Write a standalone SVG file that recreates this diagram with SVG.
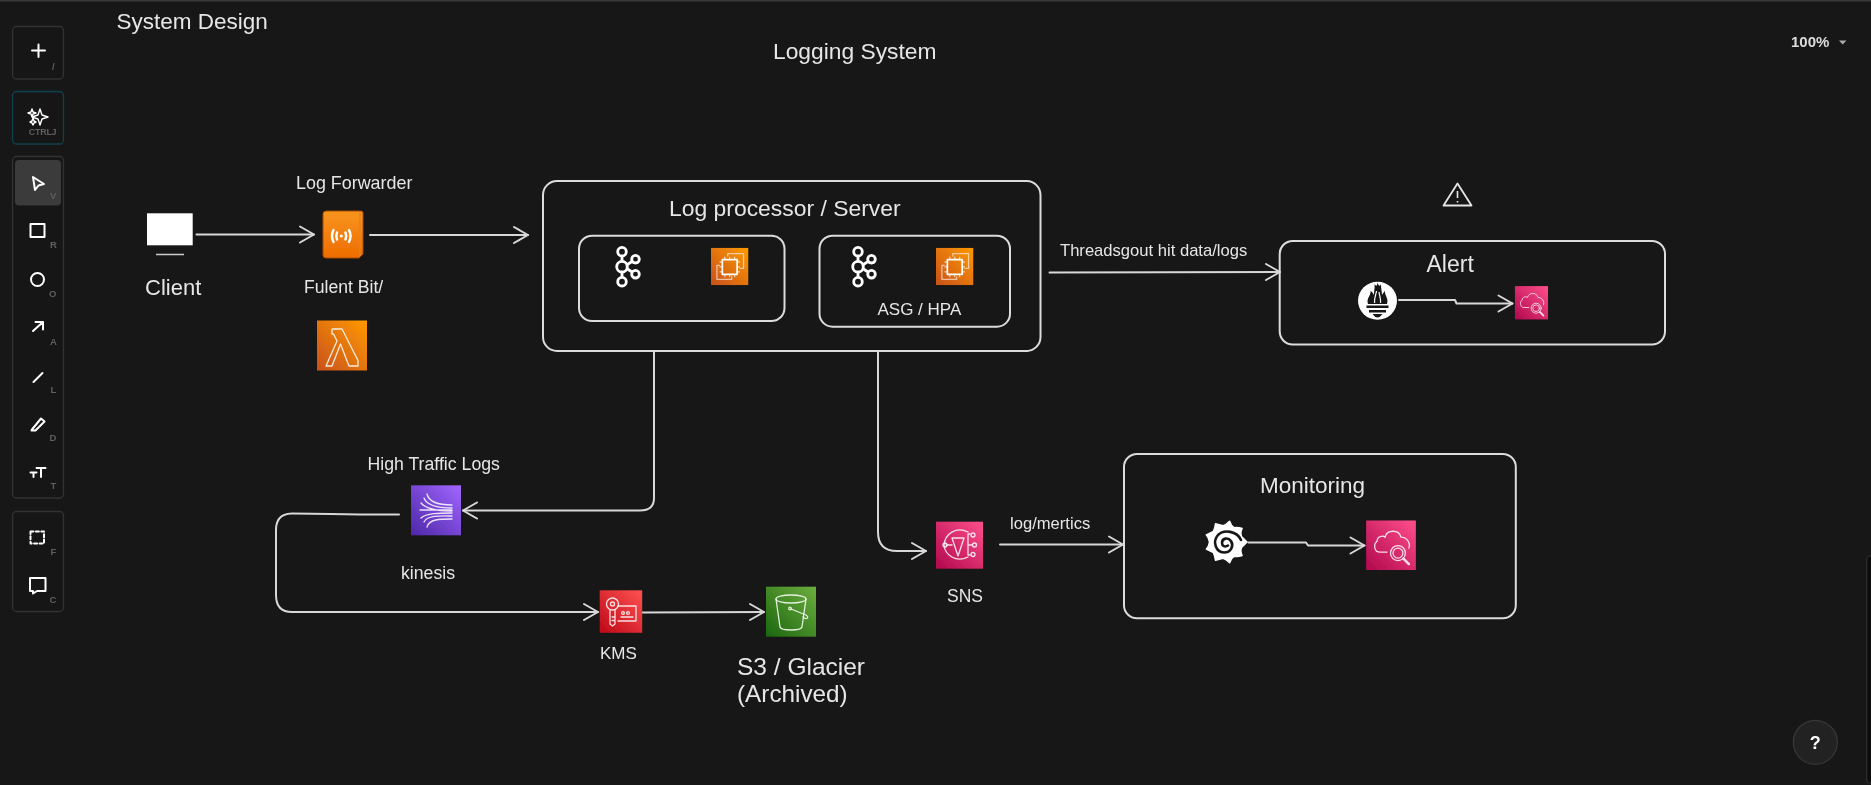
<svg xmlns="http://www.w3.org/2000/svg" width="1871" height="785" viewBox="0 0 1871 785">
<style>
text{font-family:"Liberation Sans",Arial,sans-serif;fill:#e6e6e6}
.panel{fill:#171717;stroke:#333;stroke-width:1.3}
.tool{fill:none;stroke:#fff;stroke-width:2;stroke-linecap:round;stroke-linejoin:round}
.key{font-size:9.5px;fill:#5e5e5e;font-weight:bold}
.frame{fill:none;stroke:#dcdcdc;stroke-width:2}
.edge{fill:none;stroke:#d8d8d8;stroke-width:2;stroke-linecap:round;stroke-linejoin:round;marker-end:url(#head)}
.glyph{fill:none;stroke:#fff;stroke-opacity:.85;stroke-width:1.3;stroke-linecap:round;stroke-linejoin:round}
.s17{font-size:17.600px}.s23{font-size:22.900px}
.kafka{fill:none;stroke:#fff;stroke-width:2.800}
</style>
<defs>
<filter id="soft" filterUnits="userSpaceOnUse" x="0" y="0" width="1871" height="785"><feGaussianBlur stdDeviation="0.35"/></filter>
<marker id="head" markerUnits="userSpaceOnUse" markerWidth="20" markerHeight="22" refX="16" refY="10" orient="auto">
<path d="M2,2 L16,10 L2,18" fill="none" stroke="#d8d8d8" stroke-width="2" stroke-linecap="round" stroke-linejoin="round"/>
</marker>
<linearGradient id="orange" x1="0" y1="1" x2="1" y2="0"><stop offset="0" stop-color="#c8511b"/><stop offset="1" stop-color="#f90"/></linearGradient>
<linearGradient id="pink" x1="0" y1="1" x2="1" y2="0"><stop offset="0" stop-color="#b0084d"/><stop offset="1" stop-color="#ff4f8b"/></linearGradient>
<linearGradient id="purple" x1="0" y1="1" x2="1" y2="0"><stop offset="0" stop-color="#4d27a8"/><stop offset="1" stop-color="#a166ff"/></linearGradient>
<linearGradient id="red" x1="0" y1="1" x2="1" y2="0"><stop offset="0" stop-color="#bd0816"/><stop offset="1" stop-color="#ff5252"/></linearGradient>
<linearGradient id="green" x1="0" y1="1" x2="1" y2="0"><stop offset="0" stop-color="#1b660f"/><stop offset="1" stop-color="#6cae3e"/></linearGradient>
<linearGradient id="book" x1="0" y1="0" x2="0" y2="1"><stop offset="0" stop-color="#f89520"/><stop offset="1" stop-color="#ee6c00"/></linearGradient>
<symbol id="kafkaIcon" viewBox="0 0 30 42" width="30" height="42" overflow="visible">
<g class="kafka"><path d="M7,10.500V15.500M7,26.500V31.500M12,19L17.500,15.500M12,23L17.500,26.500"/><circle cx="7" cy="6" r="4.300"/><circle cx="7" cy="21" r="5.300"/><circle cx="7" cy="36" r="4.300"/><circle cx="20.500" cy="13.500" r="3.800"/><circle cx="20.500" cy="28.500" r="3.800"/></g>
</symbol>
<symbol id="ec2Icon" viewBox="0 0 38 38" width="37.500" height="37.500">
<rect width="38" height="38" fill="url(#orange)"/>
<g class="glyph"><path d="M17,8.500V6H33V21H29.500" stroke-opacity=".6"/><path d="M8.500,18H6V32H21V29.500" stroke-opacity=".6"/><rect x="11.500" y="12" width="15" height="15" stroke-width="1.700" stroke-opacity="1"/><path d="M14,9.500V12M19,9.500V12M24,9.500V12M14,27V29.500M19,27V29.500M24,27V29.500M9,14.500H11.500M9,19.500H11.500M9,24.500H11.500M26.500,14.500H29M26.500,19.500H29M26.500,24.500H29" stroke-width="1"/></g>
</symbol>
<symbol id="cwIcon" viewBox="0 0 50 50">
<rect width="50" height="50" fill="url(#pink)"/>
<g class="glyph" stroke-width="1.500"><path d="M21,32H14C8,32 7,24 11,21C11,16 17,15 19,17C21,9 33,9 35,17C41,17 45,23 43,28"/><circle cx="32" cy="33" r="7.500"/><circle cx="32" cy="33" r="5"/><path d="M37.500,38.500L43,44" stroke-width="2.500"/></g>
</symbol>
</defs>

<rect width="1871" height="785" fill="#171717"/>
<rect width="1871" height="1.500" fill="#3a3a3a"/>
<g filter="url(#soft)">
<g id="toolbar">
<rect class="panel" x="12.500" y="26.500" width="51" height="52.500" rx="4"/>
<path class="tool" d="M38.500,44.500V57M32,50.500H45"/>
<text class="key" x="52" y="70">/</text>
<rect class="panel" x="12.500" y="91.500" width="51" height="52.500" rx="4" style="stroke:#11424f"/>
<path class="tool" style="stroke-width:1.400" d="M40,109L42,115L48,117L42,119L40,125L38,119L32,117L38,115ZM32,109L33,112L36,113L33,114L32,117L31,114L28,113L31,112ZM33,118L34,121L36,122L34,123L33,125L32,123L30,122L32,121Z"/>
<text class="key" x="28.800" y="134.500" style="font-size:9px;letter-spacing:-.3px">CTRLJ</text>
<rect class="panel" x="12.500" y="156.500" width="51" height="341.500" rx="4"/>
<rect x="15" y="160" width="46" height="45.500" rx="4" fill="#3a3a3a"/>
<path class="tool" d="M33,177L44,184L38.500,185.500L35,190Z"/>
<text class="key" x="50" y="199">V</text>
<rect class="tool" x="30.500" y="224" width="14" height="13"/>
<text class="key" x="50" y="248">R</text>
<circle class="tool" cx="37.500" cy="279.500" r="6.500"/>
<text class="key" x="49" y="297">O</text>
<path class="tool" d="M33,331L43,322M35.500,322H43V329.500"/>
<text class="key" x="50" y="345">A</text>
<path class="tool" d="M33.500,382L42.500,373"/>
<text class="key" x="50.500" y="393">L</text>
<path class="tool" d="M32,429.500L41,418.500L44.500,421.500L35.500,430.500L31.500,430.500Z"/>
<text class="key" x="49.500" y="441">D</text>
<path class="tool" d="M30.500,472.500H36.500M33.500,472.500V477M36.500,468H45.500M41,468V477"/>
<text class="key" x="50.500" y="489">T</text>
<rect class="panel" x="12.500" y="511.500" width="51" height="100" rx="4"/>
<rect class="tool" x="30.500" y="531.500" width="13.500" height="12" stroke-dasharray="3 2.400"/>
<text class="key" x="50.500" y="555">F</text>
<path class="tool" d="M30,578H45.500V591H37L33,593.500V591H30Z"/>
<text class="key" x="49.500" y="603">C</text>
</g>

<g id="header">
<text x="116.500" y="29" style="font-size:22.500px">System Design</text>
<text x="773" y="59" style="font-size:22.800px">Logging System</text>
<text x="1791" y="47" style="font-size:15px;font-weight:bold;fill:#ddd">100%</text>
<path d="M1839,40.500H1846.500L1842.700,44.500Z" fill="#aaa"/>
</g>

<g id="connectors">
<path class="edge" d="M196.500,234.500H314"/>
<path class="edge" d="M370,235H528"/>
<path class="edge" d="M1049.500,272.500C1120,272 1200,272 1280,272"/>
<path class="edge" d="M654,351V498Q654,510.500 640,510.500H463"/>
<path class="edge" d="M399,514.500C360,515 320,513.500 292,513.500Q276,513.500 276,530V595Q276,612 292,612H598"/>
<path class="edge" d="M642,612.500C680,612 720,612 764,612"/>
<path class="edge" d="M878,351V532Q878,551 897,551H926"/>
<path class="edge" d="M1000,544.500H1123"/>
<path class="edge" d="M1399,300H1455L1456.500,303.500H1512.500"/>
<path class="edge" d="M1248.500,542.500H1306L1308,545.500H1364.500"/>
</g>

<g id="client">
<rect x="147" y="213.300" width="45.700" height="32" fill="#fff"/>
<path d="M156,254.500H184" stroke="#ccc" stroke-width="1.500"/>
<text x="145" y="295" style="font-size:22px">Client</text>
</g>

<g id="log-forwarder">
<text class="s17" x="296" y="188.500" style="font-size:17.900px">Log Forwarder</text>
<path d="M326,211H361Q363,211 363,213V254L359,258H326Q323,258 323,255V214Q323,211 326,211Z" fill="url(#book)" stroke="#a84a00" stroke-width="1"/>
<path d="M360,212V256" stroke="#e8811a" stroke-width="1.500"/>
<g fill="none" stroke="#fff" stroke-width="2.500" stroke-linecap="round"><path d="M333.500,230Q330.500,236 333.500,242M349,230Q352,236 349,242"/><path d="M337,232.500Q335.500,236 337,239.500M345.500,232.500Q347,236 345.500,239.500"/></g>
<circle cx="341.300" cy="236" r="1.600" fill="#fff"/>
<text class="s17" x="304" y="292.500">Fulent Bit/</text>
</g>

<g id="lambda">
<rect x="317" y="320.500" width="50" height="50" fill="url(#orange)"/>
<path class="glyph" d="M332,329H342L358,360.500V366H349L340.500,344L332,366H326L337,341L333.500,334H332Z"/>
</g>

<g id="log-processor">
<rect class="frame" x="543" y="181" width="497.500" height="170" rx="14"/>
<text class="s23" x="669" y="216">Log processor / Server</text>
<rect class="frame" x="579" y="235.700" width="205.500" height="85.300" rx="13"/>
<rect class="frame" x="819.500" y="235.700" width="190.500" height="91" rx="13"/>
<use href="#kafkaIcon" x="615" y="245.700"/>
<use href="#kafkaIcon" x="851" y="245.700"/>
<use href="#ec2Icon" x="711" y="247.700"/>
<use href="#ec2Icon" x="936" y="247.700"/>
<text x="877.500" y="315" style="font-size:17px">ASG / HPA</text>
</g>

<g id="threshold-label"><text x="1060" y="256" style="font-size:16.600px">Threadsgout hit data/logs</text></g>

<g id="alert">
<path d="M1457.500,183.500L1471.500,205.500H1443.500Z" fill="none" stroke="#e6e6e6" stroke-width="1.800" stroke-linejoin="round"/>
<path d="M1457.500,191V198M1457.500,201V202.500" stroke="#e6e6e6" stroke-width="1.600"/>
<rect class="frame" x="1279.700" y="241" width="385.300" height="103.500" rx="13"/>
<text x="1426.500" y="271.500" style="font-size:23px">Alert</text>
<g id="prometheus">
<ellipse cx="1377.500" cy="300.700" rx="19.500" ry="19" fill="#fff"/>
<path d="M1368,304C1366,298 1371,296 1370.500,291C1372.500,292 1373,293 1374,295C1374,290 1375,288 1374.500,284C1376,286 1377,287 1377.500,282.500C1378.500,286 1380,287 1381,284C1381,289 1382,291 1382,295C1383,293 1384,292 1385,291C1384.500,296 1389,298 1387,304Z" fill="#171717"/>
<path d="M1374.500,303C1374,298 1376,295 1376.500,291M1380.500,303C1381,299 1379.500,296 1379,292" fill="none" stroke="#fff" stroke-width="1.200"/>
<path d="M1366.500,305.500H1388.500V308H1366.500ZM1369,310H1386V312.500H1369ZM1372.500,314H1382.500Q1380,317.500 1377.500,317.500Q1375,317.500 1372.500,314Z" fill="#171717"/>
</g>
<use href="#cwIcon" x="1514.700" y="286" width="33.500" height="33.700"/>
</g>

<g id="kinesis">
<text class="s17" x="367.500" y="470" style="font-size:17.700px">High Traffic Logs</text>
<rect x="411" y="485.300" width="50" height="50" fill="url(#purple)"/>
<g class="glyph"><path d="M427,494C429,503 440,505 452,505M424,498C427,506 440,508 452,508M421,503C426,509 440,511 452,511M420,510H452M421,518C426,513 440,513 452,513M424,522C427,515 440,516 452,516M427,527C429,519 440,519 452,519"/></g>
<text x="401" y="579.300" style="font-size:17.700px">kinesis</text>
</g>

<g id="kms">
<rect x="599.700" y="590.300" width="42.500" height="42.500" fill="url(#red)"/>
<g class="glyph"><circle cx="612.500" cy="604" r="6"/><circle cx="612.500" cy="604" r="2"/><path d="M610,610V624L612.500,626L615,624V610M612,617H615M612,620.500H615M618,606H636V621H618M621,617H633"/><circle cx="623" cy="613" r="1.400"/><circle cx="628" cy="613" r="1.400"/></g>
<text x="600" y="659" style="font-size:17px">KMS</text>
</g>

<g id="s3">
<rect x="766" y="586.700" width="50" height="50" fill="url(#green)"/>
<g class="glyph"><ellipse cx="791" cy="599" rx="15" ry="4"/><path d="M776,599L780,627C781,631 801,631 802,627L806,599"/><circle cx="790" cy="608.500" r="1.300"/><path d="M791,609L806,615C810,618 806,620 803,617"/></g>
<text x="737" y="675" style="font-size:24.500px">S3 / Glacier</text>
<text x="737" y="702" style="font-size:24.300px">(Archived)</text>
</g>

<g id="sns">
<rect x="936" y="521.700" width="47" height="47" fill="url(#pink)"/>
<g class="glyph"><path d="M968,532C956,526 945,534 944,545C945,555 956,563 968,557M946,545H952M952,538H964L958,556ZM968,545H972M968,534V555M968,534H970M968,555H970"/><circle cx="973" cy="535" r="2"/><circle cx="974.500" cy="545" r="2"/><circle cx="973" cy="554.500" r="2"/><circle cx="945" cy="545" r="2"/></g>
<text x="947" y="601.500" style="font-size:17.500px">SNS</text>
</g>

<g id="metrics-label"><text x="1010" y="529.300" style="font-size:16.600px">log/mertics</text></g>

<g id="monitoring">
<rect class="frame" x="1124" y="454" width="391.800" height="164.300" rx="13"/>
<text x="1260" y="493" style="font-size:22.500px">Monitoring</text>
<g id="grafana" transform="translate(1226,542)">
<path d="M3.600,-20.700Q5,-16 8.200,-14.300Q12,-15 16.100,-13.500Q14,-9 15.500,-5.600Q18,-3 21,0Q18,3 15.500,5.600Q14,9 16.100,13.500Q12,15 8.200,14.300Q5,16 3.600,20.700Q0,17 -2.900,16.200Q-7,17 -10.500,18.200Q-11,14 -12.600,10.600Q-16,9 -19.700,7.200Q-17,4 -16.500,0Q-17,-4 -19.700,-7.200Q-16,-9 -12.600,-10.600Q-11,-14 -10.500,-18.200Q-7,-17 -2.900,-16.200Q0,-17 3.600,-20.700Z" fill="#fff" stroke="#fff" stroke-width="1.500" stroke-linejoin="round"/>
<path d="M15,-2C11,-11 -2,-13 -8,-7C-14,0 -10,10 -2,10.500C5,10.500 8,4 5,-1C2,-5 -4,-4 -4,1C-4,4 -1,5.500 2,3.500" fill="none" stroke="#171717" stroke-width="2.600" stroke-linecap="round"/>
</g>
<use href="#cwIcon" x="1366" y="520.300" width="50" height="49.700"/>
</g>

<g id="help">
<circle cx="1815.300" cy="742.300" r="22" fill="#242424" stroke="#383838" stroke-width="1.200"/>
<text x="1815.300" y="748.500" text-anchor="middle" style="font-size:18px;font-weight:bold;fill:#fff">?</text>
</g>
<rect x="1866.700" y="556" width="10" height="227" rx="3" fill="#0e0e0e" stroke="#333"/>
</g>
</svg>
